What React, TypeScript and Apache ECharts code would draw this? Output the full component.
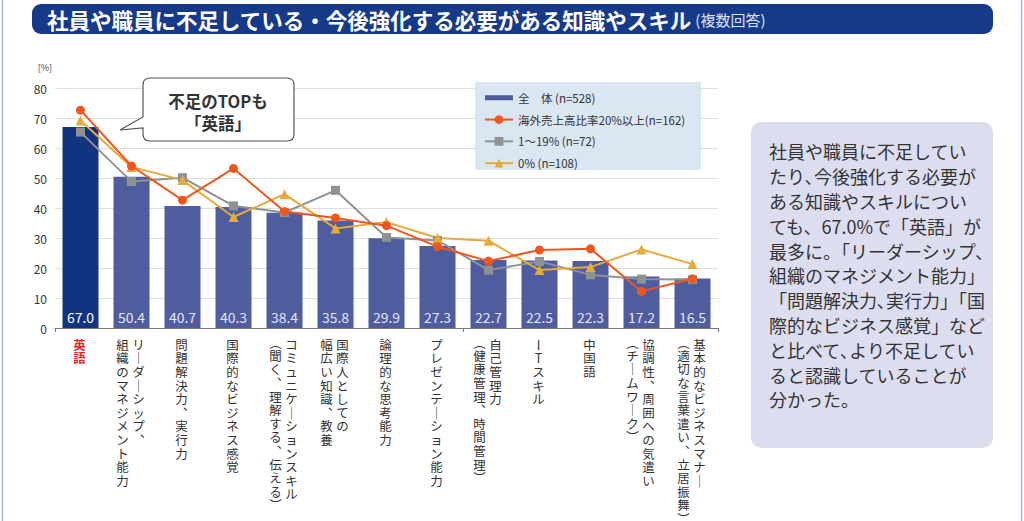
import React, { useEffect, useRef } from "react";
import * as echarts from "echarts";

// ---- data ----
const CATEGORIES = [
  "英語",
  "リーダーシップ、組織のマネジメント能力",
  "問題解決力、実行力",
  "国際的なビジネス感覚",
  "コミュニケーションスキル(聞く、理解する、伝える)",
  "国際人としての幅広い知識、教養",
  "論理的な思考能力",
  "プレゼンテーション能力",
  "自己管理力(健康管理、時間管理)",
  "ITスキル",
  "中国語",
  "協調性、周囲への気遣い(チームワーク)",
  "基本的なビジネスマナー(適切な言葉遣い、立居振舞)",
];
// vertical label columns (right column first)
const LABEL_COLUMNS: string[][] = [
  ["英語"],
  ["リーダーシップ、", "組織のマネジメント能力"],
  ["問題解決力、実行力"],
  ["国際的なビジネス感覚"],
  ["コミュニケーションスキル", "(聞く、理解する、伝える)"],
  ["国際人としての", "幅広い知識、教養"],
  ["論理的な思考能力"],
  ["プレゼンテーション能力"],
  ["自己管理力", "(健康管理、時間管理)"],
  ["ITスキル"],
  ["中国語"],
  ["協調性、周囲への気遣い", "(チームワーク)"],
  ["基本的なビジネスマナー", "(適切な言葉遣い、立居振舞)"],
];
const SERIES_NAMES = ["全　体 (n=528)", "海外売上高比率20%以上(n=162)", "1～19% (n=72)", "0% (n=108)"];
const TOTAL = [67.0, 50.4, 40.7, 40.3, 38.4, 35.8, 29.9, 27.3, 22.7, 22.5, 22.3, 17.2, 16.5];
const OVERSEAS_20 = [72.6, 54.0, 42.6, 53.2, 38.8, 36.7, 34.1, 27.1, 22.3, 26.0, 26.4, 12.2, 16.4];
const OVERSEAS_1_19 = [65.3, 48.8, 50.1, 40.7, 38.5, 45.9, 30.2, 29.2, 19.3, 22.2, 17.7, 16.3, 16.1];
const OVERSEAS_0 = [69.2, 53.7, 49.3, 37.0, 44.6, 33.2, 35.3, 30.0, 29.1, 19.3, 20.3, 26.2, 21.3];
const Y_TICKS = { min: 0, max: 80, interval: 10 };

const TITLE = "社員や職員に不足している・今後強化する必要がある知識やスキル";
const TITLE_SUB = "(複数回答)";
const CALLOUT_LINES = ["不足のTOPも", "「英語」"];
const NOTE_LINES = [
  "社員や職員に不足してい",
  "たり､今後強化する必要が",
  "ある知識やスキルについ",
  "ても、67.0%で「英語」が",
  "最多に。「リーダーシップ、",
  "組織のマネジメント能力」",
  "「問題解決力､実行力」「国",
  "際的なビジネス感覚」など",
  "と比べて､より不足してい",
  "ると認識していることが",
  "分かった。",
];

const FONT = '"Noto Sans CJK JP", "Noto Sans", sans-serif';

const VERTICAL_MAP: Record<string, string> = {
  "ー": "｜",
  "、": "︑",
  "(": "︵",
  ")": "︶",
};

const CALLOUT_D =
  "M150,78 H287 Q294,78 294,85 V134 Q294,141 287,141 H150 Q143,141 143,134 V128 L120,130 L143,117 V85 Q143,78 150,78 Z";

let registered = false;
function registerShapes() {
  if (registered) return;
  registered = true;
  echarts.graphic.registerShape("callout", echarts.graphic.extendPath(CALLOUT_D, {}) as any);
}

export default function App() {
  const ref = useRef<HTMLDivElement>(null);

  useEffect(() => {
    if (!ref.current) return;
    registerShapes();
    const chart = echarts.init(ref.current, undefined, { renderer: "svg" });

    const option: any = {
      animation: false,
      backgroundColor: "#ffffff",
      textStyle: { fontFamily: FONT },
      grid: { left: 55, right: 306, top: 88, bottom: 193, containLabel: false },
      legend: {
        data: SERIES_NAMES.map((n, i) =>
          i === 0 ? { name: n, icon: "path://M0,3H28V8H0Z" } : { name: n }
        ),
        orient: "vertical",
        left: 479,
        top: 87,
        itemWidth: 28,
        itemHeight: 11,
        itemGap: 10.3,
        z: 5,
        textStyle: { fontSize: 11.5, color: "#333", fontFamily: FONT },
      },
      xAxis: {
        type: "category",
        data: CATEGORIES,
        axisLine: { lineStyle: { color: "#777", width: 1 } },
        axisTick: { show: true, length: 4, lineStyle: { color: "#777" } },
        axisLabel: { show: false },
        splitLine: { show: false },
      },
      yAxis: {
        type: "value",
        min: Y_TICKS.min,
        max: Y_TICKS.max,
        interval: Y_TICKS.interval,
        name: "[%]",
        nameLocation: "end",
        nameGap: 16,
        nameTextStyle: { fontSize: 9, color: "#444", align: "right", padding: [0, 3, 0, 0] },
        axisLine: { show: false },
        axisTick: { show: false },
        axisLabel: { fontSize: 12, color: "#333", margin: 8 },
        splitLine: { lineStyle: { color: "#dedede", width: 1 } },
      },
      series: [
        {
          name: SERIES_NAMES[0],
          type: "bar",
          barWidth: 36,
          z: 2,
          itemStyle: { color: "#4f5c9e" },
          data: TOTAL.map((v, i) =>
            i === 0
              ? {
                  value: v,
                  itemStyle: { color: "#12337f" },
                  label: { color: "#ffffff" },
                }
              : v
          ),
          label: {
            show: true,
            position: "insideBottom",
            distance: 4,
            fontSize: 14,
            color: "#e2e5f4",
            formatter: (p: any) => Number(p.value).toFixed(1),
          },
        },
        {
          name: SERIES_NAMES[1],
          type: "line",
          z: 4,
          data: OVERSEAS_20,
          symbol: "circle",
          symbolSize: 9,
          lineStyle: { color: "#f0561f", width: 2 },
          itemStyle: { color: "#f0561f" },
        },
        {
          name: SERIES_NAMES[2],
          type: "line",
          z: 3,
          data: OVERSEAS_1_19,
          symbol: "rect",
          symbolSize: 9,
          lineStyle: { color: "#8e9392", width: 2 },
          itemStyle: { color: "#8e9392" },
        },
        {
          name: SERIES_NAMES[3],
          type: "line",
          z: 3,
          data: OVERSEAS_0,
          symbol: "triangle",
          symbolSize: 10,
          lineStyle: { color: "#e4aa3c", width: 2 },
          itemStyle: { color: "#e4aa3c" },
        },
        {
          name: "labels",
          type: "custom",
          coordinateSystem: "cartesian2d",
          clip: false,
          silent: true,
          data: CATEGORIES.map((_, i) => [i, 0]),
          renderItem: (params: any, api: any) => {
            const idx = params.dataIndex;
            const pt = api.coord([api.value(0), 0]);
            const cols = LABEL_COLUMNS[idx];
            const isTop = idx === 0;
            const offsets = cols.length === 1 ? [-1] : [7, -9];
            const children: any[] = [];
            cols.forEach((col, j) => {
              let yy = pt[1] + 10;
              Array.from(col).forEach((ch) => {
                const isOpen = ch === "(";
                const isClose = ch === ")";
                const adv = isOpen || isClose ? 11 : 13.6;
                const shown = VERTICAL_MAP[ch] ?? ch;
                children.push({
                  type: "text",
                  x: pt[0] + offsets[j],
                  y: isOpen ? yy - 2 : yy,
                  style: {
                    text: shown,
                    fill: isTop ? "#e8242c" : "#333333",
                    font: `${isTop ? "bold " : ""}12.5px ${FONT}`,
                    align: "center",
                    verticalAlign: "top",
                  },
                });
                yy += adv;
              });
            });
            return { type: "group", children };
          },
        },
      ],
      graphic: [
        // frame
        { type: "line", z: 0, shape: { x1: 2.5, y1: 0, x2: 2.5, y2: 521 }, style: { stroke: "#aab6da", lineWidth: 1.5 } },
        { type: "line", z: 0, shape: { x1: 1021.5, y1: 0, x2: 1021.5, y2: 521 }, style: { stroke: "#aab6da", lineWidth: 1.5 } },
        // title bar
        {
          type: "rect",
          z: 1,
          shape: { x: 32, y: 4, width: 961, height: 30, r: 9 },
          style: { fill: "#163a88" },
        },
        {
          type: "text",
          z: 2,
          x: 47,
          y: 19,
          style: {
            text: `{a|${TITLE}}{b| ${TITLE_SUB}}`,
            verticalAlign: "middle",
            rich: {
              a: { fontSize: 21.5, fontWeight: "bold", color: "#ffffff", fill: "#ffffff", fontFamily: FONT },
              b: { fontSize: 15, color: "#dfe4f2", fill: "#dfe4f2", fontFamily: FONT },
            },
          },
        },
        // legend background
        {
          type: "rect",
          z: 3,
          shape: { x: 475, y: 82, width: 226, height: 88, r: 2 },
          style: { fill: "#dbe6f3" },
        },
        // callout
        {
          type: "callout",
          z: 6,
          x: 0,
          y: 0,
          scaleX: 1,
          scaleY: 1,
          style: { fill: "#ffffff", stroke: "#555555", lineWidth: 1.2 },
        },
        {
          type: "text",
          z: 7,
          x: 218,
          y: 101,
          style: {
            text: CALLOUT_LINES[0],
            font: `bold 16.5px ${FONT}`,
            fill: "#333",
            align: "center",
            verticalAlign: "middle",
          },
        },
        {
          type: "text",
          z: 7,
          x: 218,
          y: 123,
          style: {
            text: CALLOUT_LINES[1],
            font: `bold 16.5px ${FONT}`,
            fill: "#333",
            align: "center",
            verticalAlign: "middle",
          },
        },
        // note box
        {
          type: "rect",
          z: 1,
          shape: { x: 751, y: 122, width: 242, height: 326, r: 10 },
          style: { fill: "#dcdef0" },
        },
        {
          type: "text",
          z: 2,
          x: 769,
          y: 139,
          style: {
            text: NOTE_LINES.join("\n"),
            font: `18px ${FONT}`,
            fill: "#333",
            lineHeight: 24.8,
            align: "left",
            verticalAlign: "top",
          },
        },
      ],
    };

    chart.setOption(option);
    return () => chart.dispose();
  }, []);

  return (
    <div
      ref={ref}
      style={{ position: "absolute", left: 0, top: 0, width: 1024, height: 521, background: "#fff" }}
    />
  );
}
